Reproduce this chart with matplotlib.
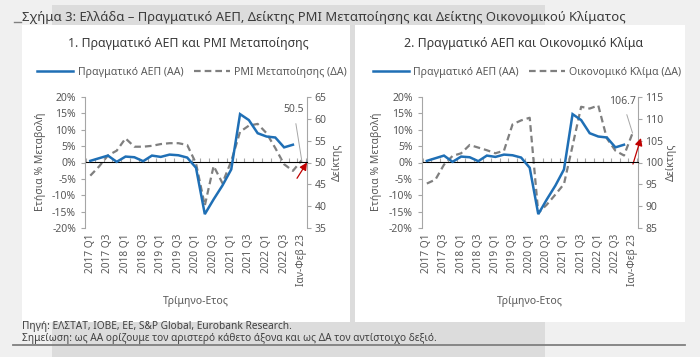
import matplotlib
matplotlib.use("Agg")
import matplotlib.pyplot as plt
from matplotlib.patches import Rectangle
from matplotlib.lines import Line2D
from matplotlib.ticker import FuncFormatter, NullFormatter
import numpy as np

plt.rcParams["font.family"] = ["Noto Sans", "DejaVu Sans"]

# categories: quarters 2017 Q1 .. 2022 Q4 plus Jan-Feb 2023
quarters = [f"{y} Q{q}" for y in range(2017, 2023) for q in range(1, 5)]
categories = quarters + ["Ιαν-Φεβ 23"]

gdp = [0.5, 1.3, 2.1, 0.2, 1.8, 1.6, 0.4, 2.1, 1.7, 2.4, 2.2, 1.5,
       -1.6, -15.7, -11.2, -7.0, -2.1, 14.7, 12.9, 8.9, 7.9, 7.6, 4.6, 5.4]
pmi = [47.0, 49.1, 51.6, 52.7, 55.5, 53.6, 53.6, 53.8, 54.2, 54.4, 54.4, 54.0,
       49.8, 40.2, 49.2, 45.3, 50.3, 57.0, 58.4, 58.8, 56.7, 53.3, 49.6, 48.1, 50.5]
esi = [95.2, 96.1, 99.5, 101.5, 102.1, 104.0, 103.4, 102.8, 102.1, 102.7, 108.7, 109.6,
       110.2, 88.5, 90.4, 92.7, 95.1, 103.8, 112.7, 112.3, 113.0, 105.5, 102.7, 101.6, 106.7]

gdp_ticks = [-20, -15, -10, -5, 0, 5, 10, 15, 20]
pmi_ticks = [35, 40, 45, 50, 55, 60, 65]
esi_ticks = [85, 90, 95, 100, 105, 110, 115]

BLUE = "#1f6fb5"
GREY = "#7f7f7f"
TXT = "#595959"
AXC = "#a6a6a6"

W, H = 700, 357
fig = plt.figure(figsize=(7.0, 3.57), dpi=100)
fig.patch.set_facecolor("#f0f0f0")


def px(x0, y0, x1, y1):
    # pixel box (from top-left) -> figure fraction rect
    return [x0 / W, 1 - y1 / H, (x1 - x0) / W, (y1 - y0) / H]


def box(x0, y0, x1, y1, color):
    l, b, w, h = px(x0, y0, x1, y1)
    fig.patches.append(Rectangle((l, b), w, h, transform=fig.transFigure,
                                 facecolor=color, edgecolor="none", zorder=-5))


box(52, 5, 545, 357, "#dcdcdc")
box(22, 25, 350, 322, "white")
box(355, 25, 685, 322, "white")

fig.text(22 / W, 1 - 17 / H,
         "Σχήμα 3: Ελλάδα – Πραγματικό ΑΕΠ, Δείκτης PMI Μεταποίησης και Δείκτης Οικονομικού Κλίματος",
         fontsize=9.4, color="#3a3a3a", va="center", ha="left")
fig.add_artist(Line2D([14 / W, 21 / W], [1 - 22 / H, 1 - 22 / H], color="#808080", lw=1.0))
fig.add_artist(Line2D([13 / W, 685 / W], [1 - 345 / H, 1 - 345 / H], color="#808080", lw=1.3))
fig.text(22 / W, 1 - 327 / H, "Πηγή: ΕΛΣΤΑΤ, ΙΟΒΕ, ΕΕ, S&P Global, Eurobank Research.",
         fontsize=7.3, color="#404040", va="center")
fig.text(22 / W, 1 - 338.5 / H,
         "Σημείωση: ως ΑΑ ορίζουμε τον αριστερό κάθετο άξονα και ως ΔΑ τον αντίστοιχο δεξιό.",
         fontsize=7.3, color="#404040", va="center")


def panel(rect, title, title_x, right_vals, right_ticks, right_name, label_xy, arrow_head, arrow_tail,
          ylabel_x, rlabel_x, legend_x):
    ax = fig.add_axes(px(*rect))
    ax2 = ax.twinx()
    x = np.arange(len(categories))

    ax.plot(x[:len(gdp)], gdp, color=BLUE, lw=1.8, solid_joinstyle="miter", label="Πραγματικό ΑΕΠ (ΑΑ)")
    ax2.plot(x, right_vals, color=GREY, lw=1.6, dashes=(3, 1.8), label=right_name)
    ax.set_zorder(ax2.get_zorder() + 1)
    ax.patch.set_visible(False)

    ax.set_xlim(-0.6, len(categories) - 0.4)
    ax.set_ylim(gdp_ticks[0], gdp_ticks[-1])
    ax2.set_ylim(right_ticks[0], right_ticks[-1])
    ax.set_yticks(gdp_ticks)
    ax.yaxis.set_major_formatter(FuncFormatter(lambda v, p: f"{v:.0f}%"))
    ax2.set_yticks(right_ticks)

    ax.set_xticks(x[::2])
    ax.set_xticklabels(categories[::2], rotation=90, fontsize=7.3, color=TXT)
    ax.tick_params(axis="x", length=0, pad=4)
    ax.tick_params(axis="y", labelsize=7.5, labelcolor=TXT, color=AXC, length=3, width=0.8)
    ax2.tick_params(axis="y", labelsize=7.5, labelcolor=TXT, color=AXC, length=3, width=0.8, pad=2.5)

    for a in (ax, ax2):
        a.spines["top"].set_visible(False)
        a.spines["bottom"].set_visible(False)
        a.spines["left"].set_color(AXC)
        a.spines["right"].set_color(AXC)
    ax.spines["right"].set_visible(False)
    ax2.spines["left"].set_visible(False)

    # zero line with category boundary ticks
    sec = ax.secondary_xaxis(0.5)
    sec.set_xticks(np.arange(len(categories) + 1) - 0.5)
    sec.xaxis.set_major_formatter(NullFormatter())
    sec.tick_params(axis="x", length=3, color=AXC, width=0.8)
    sec.spines["bottom"].set_color(AXC)
    sec.spines["bottom"].set_linewidth(0.9)

    ax.set_xlabel("Τρίμηνο-Ετος", fontsize=7.5, color=TXT, labelpad=7)

    fig.text(ylabel_x / W, 1 - 162 / H, "Ετήσια % Μεταβολή", rotation=90, fontsize=7.5,
             color=TXT, ha="center", va="center")
    fig.text(rlabel_x / W, 1 - 162 / H, "Δείκτης", rotation=90, fontsize=7.5,
             color=TXT, ha="center", va="center")
    fig.text(title_x / W, 1 - 44 / H, title, fontsize=8.9, color="#3a3a3a", ha="center", va="center")

    ax2.annotate(f"{right_vals[-1]:.1f}", xy=(x[-1], right_vals[-1]), xytext=label_xy,
                 textcoords="axes fraction", fontsize=7.5, color=TXT, ha="center", va="center",
                 arrowprops=dict(arrowstyle="-", color="#a6a6a6", lw=0.7, shrinkA=4, shrinkB=0))
    ax2.annotate("", xy=arrow_head, xycoords="axes fraction", xytext=arrow_tail,
                 textcoords="axes fraction", annotation_clip=False,
                 arrowprops=dict(arrowstyle="-|>", color="#c00000", lw=0.9, mutation_scale=11,
                                 shrinkA=0, shrinkB=0))

    h1, l1 = ax.get_legend_handles_labels()
    h2, l2 = ax2.get_legend_handles_labels()
    fig.legend(h1 + h2, l1 + l2, loc="center", bbox_to_anchor=(legend_x / W, 1 - 72 / H), ncol=2,
               frameon=False, fontsize=7.6, handlelength=3.4, handletextpad=0.4, columnspacing=1.0,
               labelcolor=TXT)
    return ax, ax2


panel((85, 96.7, 307, 228.3), "1. Πραγματικό ΑΕΠ και PMI Μεταποίησης", 188,
      pmi, pmi_ticks, "PMI Μεταποίησης (ΔΑ)", (0.94, 0.90), (1.0, 0.50), (0.955, 0.38), 40, 337, 192)
panel((421.7, 96.7, 637.7, 228.3), "2. Πραγματικό ΑΕΠ και Οικονομικό Κλίμα", 524,
      esi, esi_ticks, "Οικονομικό Κλίμα (ΔΑ)", (0.93, 0.967), (1.015, 0.686), (0.978, 0.488), 376, 671, 527)

fig.savefig("out.png", dpi=100, facecolor=fig.get_facecolor())
